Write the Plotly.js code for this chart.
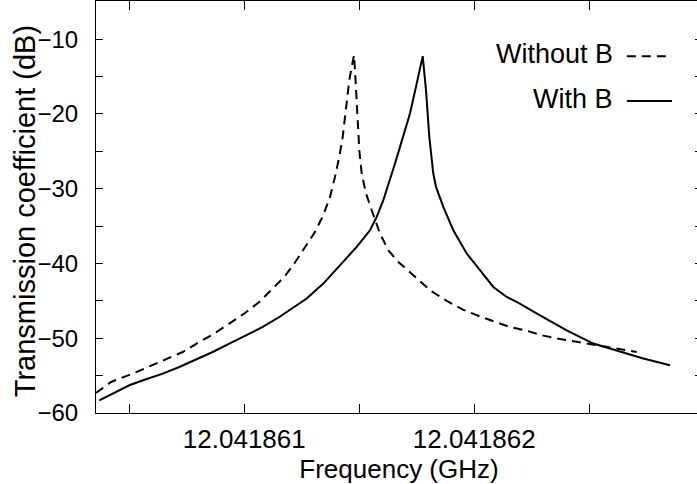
<!DOCTYPE html>
<html>
<head>
<meta charset="utf-8">
<script src="https://cdn.plot.ly/plotly-3.0.1.min.js"></script>
<style>
html,body{margin:0;padding:0;overflow:hidden;background:#fff;}
#chart{width:710px;height:484px;}
</style>
</head>
<body>
<div id="chart"></div>
<script>
// Frequencies in GHz, transmission coefficient in dB
const freqWithoutB = [
  12.0418603552, 12.0418604204, 12.0418605148, 12.0418606522, 12.0418607322,
  12.0418608043, 12.0418608696, 12.0418609348, 12.0418610000, 12.0418610652,
  12.0418611235, 12.0418611739, 12.0418612174, 12.0418612639, 12.0418613074,
  12.0418613435, 12.0418613726, 12.0418613943, 12.0418614130, 12.0418614278,
  12.0418614422, 12.0418614565, 12.0418614670, 12.0418614770, 12.0418614813,
  12.0418614913, 12.0418615000, 12.0418615104, 12.0418615291, 12.0418615539,
  12.0418615900, 12.0418616261, 12.0418616696, 12.0418617348, 12.0418618074,
  12.0418618800, 12.0418619522, 12.0418620248, 12.0418620826, 12.0418621552,
  12.0418622278, 12.0418623000, 12.0418623726, 12.0418624452, 12.0418625322,
  12.0418626191, 12.0418627061
];
const dbWithoutB = [
  -57.33, -55.85, -54.73, -52.95, -51.84,
  -50.50, -49.38, -48.04, -46.70, -45.15,
  -43.36, -41.80, -40.01, -37.79, -35.78,
  -33.55, -31.10, -28.42, -25.75, -23.07,
  -19.50, -15.49, -13.71, -12.14, -14.15,
  -19.06, -24.85, -27.97, -30.64, -32.88,
  -36.00, -38.23, -39.80, -41.58, -43.58,
  -45.00, -46.20, -47.10, -47.70, -48.50,
  -49.00, -49.65, -50.10, -50.50, -50.94,
  -51.45, -51.85
];
const freqWithB = [
  12.0418603696, 12.0418604422, 12.0418605000, 12.0418605726, 12.0418606452,
  12.0418607174, 12.0418607900, 12.0418608626, 12.0418609348, 12.0418610074,
  12.0418610800, 12.0418611522, 12.0418612248, 12.0418612713, 12.0418613435,
  12.0418614161, 12.0418614887, 12.0418615465, 12.0418615757, 12.0418616043,
  12.0418616335, 12.0418616552, 12.0418616770, 12.0418617204, 12.0418617496,
  12.0418617757, 12.0418617900, 12.0418618043, 12.0418618217, 12.0418618335,
  12.0418618652, 12.0418619087, 12.0418619670, 12.0418620248, 12.0418620826,
  12.0418621409, 12.0418621843, 12.0418622857, 12.0418624017, 12.0418625174,
  12.0418626191, 12.0418627348, 12.0418628509
];
const dbWithB = [
  -58.30, -57.19, -56.29, -55.49, -54.73,
  -53.85, -52.86, -51.84, -50.71, -49.60,
  -48.49, -47.16, -45.72, -44.69, -42.69,
  -40.24, -37.79, -35.56, -33.78, -31.54,
  -28.87, -26.63, -24.41, -19.94, -15.93,
  -12.27, -16.82, -23.07, -27.97, -29.76,
  -32.44, -35.56, -38.67, -40.91, -43.14,
  -44.48, -45.15, -46.93, -48.94, -50.71,
  -51.61, -52.72, -53.62
];
const seriesNames = ["Without B", "With B"];
const xTickVals = [12.0418605, 12.041861, 12.0418615, 12.041862, 12.0418625];
const xTickText = ["", "12.041861", "", "12.041862", ""];
const yTickVals = [-60, -55, -50, -45, -40, -35, -30, -25, -20, -15, -10];
const yTickText = ["\u221260", "", "\u221250", "", "\u221240", "", "\u221230", "", "\u221220", "", "\u221210"];
const yTitle = "Transmission coefficient (dB)";
const xTitle = "Frequency (GHz)";

const FONT = "Liberation Sans, Arial, Helvetica, sans-serif";

const traces = [
  {x: freqWithoutB, y: dbWithoutB, name: seriesNames[0], mode: "lines",
   line: {color: "#000", width: 2, dash: "9px,6px"}},
  {x: freqWithB, y: dbWithB, name: seriesNames[1], mode: "lines",
   line: {color: "#000", width: 2}}
];

// legend drawn gnuplot-style: text right-aligned, sample line to the right
const legendTextY = [0.871, 0.762];
const legendLineY = [0.866, 0.757];
const annotations = seriesNames.map((n, i) => ({
  xref: "paper", yref: "paper", x: 0.857, y: legendTextY[i],
  xanchor: "right", yanchor: "middle", text: n, showarrow: false,
  font: {family: FONT, size: 27, color: "#000"}
}));
// y-axis title placed as rotated text
annotations.push({
  xref: "paper", yref: "paper", x: -0.117, y: 0.49,
  xanchor: "center", yanchor: "middle", textangle: -90,
  text: yTitle, showarrow: false,
  font: {family: FONT, size: 29, color: "#000"}
});
const shapes = seriesNames.map((n, i) => ({
  type: "line", xref: "paper", yref: "paper",
  x0: 0.876, x1: 0.9505, y0: legendLineY[i], y1: legendLineY[i],
  line: {color: "#000", width: 2, dash: traces[i].line.dash || "solid"}
}));

const layout = {
  width: 710, height: 484,
  margin: {l: 96, r: 8, t: 1, b: 71, pad: 0},
  paper_bgcolor: "#fff", plot_bgcolor: "#fff",
  showlegend: false,
  font: {family: FONT, color: "#000"},
  xaxis: {
    range: [12.0418603552, 12.04186299],
    tickvals: xTickVals, ticktext: xTickText,
    ticks: "inside", ticklen: 9, tickwidth: 1, tickcolor: "#000",
    showline: true, linecolor: "#000", linewidth: 1, mirror: "allticks",
    showgrid: false, zeroline: false,
    tickfont: {family: FONT, size: 26, color: "#000"},
    ticklabelstandoff: 3,
    title: {text: xTitle, font: {family: FONT, size: 26, color: "#000"}, standoff: 4}
  },
  yaxis: {
    range: [-60, -4.9],
    tickvals: yTickVals, ticktext: yTickText,
    ticks: "inside", ticklen: 7, tickwidth: 1, tickcolor: "#000",
    showline: true, linecolor: "#000", linewidth: 1, mirror: "allticks",
    showgrid: false, zeroline: false,
    tickfont: {family: FONT, size: 24, color: "#000"},
    ticklabelstandoff: 12
  },
  annotations: annotations,
  shapes: shapes
};

Plotly.newPlot("chart", traces, layout, {displayModeBar: false, staticPlot: true});
</script>
</body>
</html>
